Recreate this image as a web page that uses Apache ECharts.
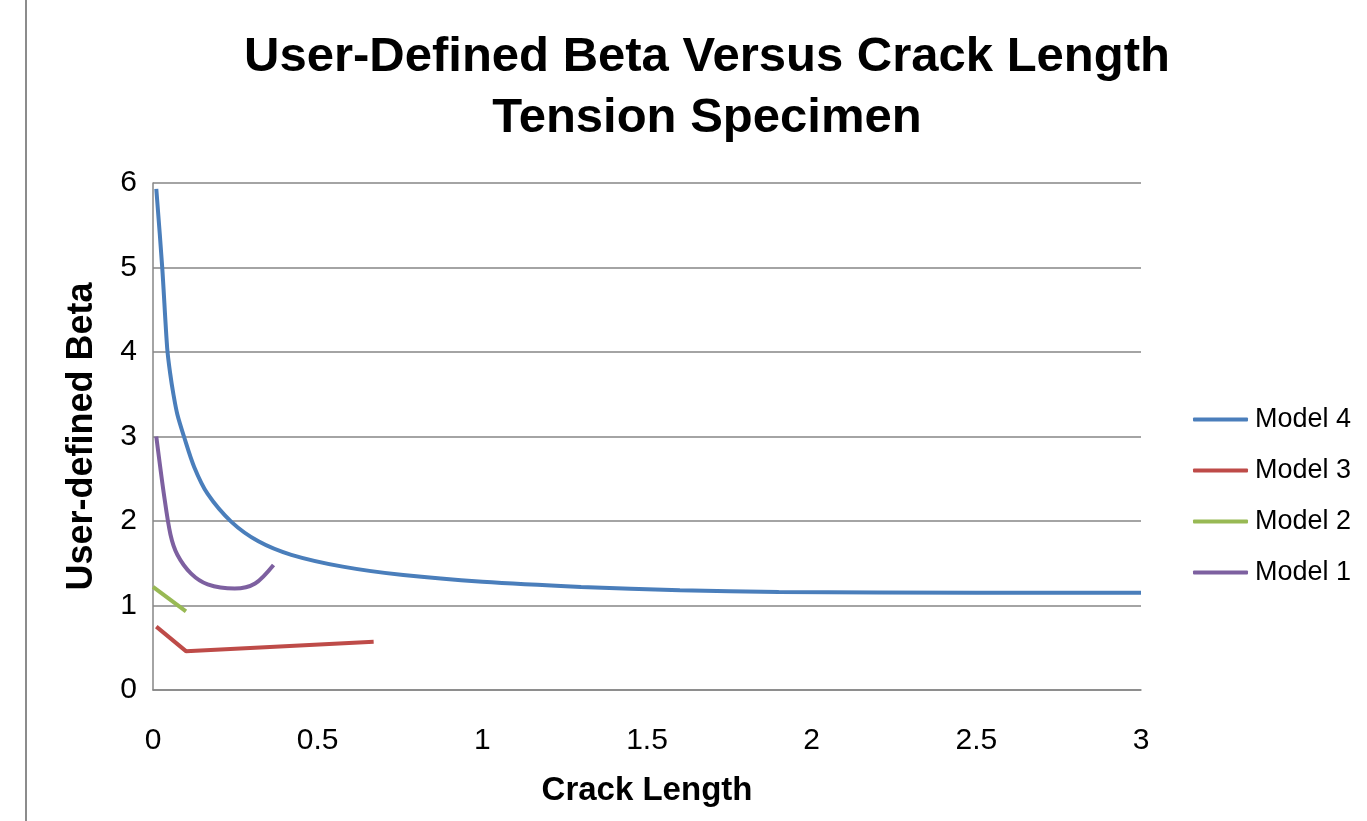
<!DOCTYPE html>
<html>
<head>
<meta charset="utf-8">
<script src="https://cdn.jsdelivr.net/npm/echarts@6/dist/echarts.min.js"></script>
<style>
  html, body { margin: 0; padding: 0; background: #fff; }
  #chart { width: 1367px; height: 821px; }
</style>
</head>
<body>
<div id="chart"></div>
<script>
// values: [crack length, beta]
const model4 = [[0.01, 5.93], [0.028, 5.0], [0.043, 4.05], [0.052, 3.75], [0.062, 3.5], [0.074, 3.26],
  [0.094, 3.0], [0.125, 2.64], [0.166, 2.32], [0.238, 1.99], [0.32, 1.76], [0.42, 1.6], [0.576, 1.46],
  [0.76, 1.36], [1.0, 1.28], [1.3, 1.22], [1.6, 1.18], [1.9, 1.16], [2.5, 1.15], [3.0, 1.15]];
const model3 = [[0.01, 0.75], [0.1, 0.46], [0.67, 0.57]];
const model2 = [[0.0, 1.22], [0.1, 0.93]];
const model1 = [[0.01, 3.0], [0.033, 2.32], [0.053, 1.84], [0.074, 1.6], [0.115, 1.38], [0.166, 1.25],
  [0.248, 1.2], [0.31, 1.26], [0.366, 1.48]];

const seriesNames = ['Model 4', 'Model 3', 'Model 2', 'Model 1'];
const seriesColors = ['#4A7EBB', '#BE4B48', '#98B954', '#7D60A0'];
const seriesData = [model4, model3, model2, model1];
const smoothFlags = [true, false, false, true];

const chart = echarts.init(document.getElementById('chart'));
const font = '"Liberation Sans", Arial, sans-serif';

chart.setOption({
  animation: false,
  backgroundColor: '#fff',
  textStyle: { fontFamily: font },
  title: {
    text: 'User-Defined Beta Versus Crack Length\nTension Specimen',
    left: 702,
    textAlign: 'center',
    top: 22,
    textStyle: { fontSize: 49, fontWeight: 'bold', color: '#000', lineHeight: 61, fontFamily: font }
  },
  legend: {
    orient: 'vertical',
    left: 1188,
    top: 401,
    itemWidth: 55,
    itemHeight: 4,
    itemGap: 24,
    icon: 'roundRect',
    data: seriesNames,
    textStyle: { fontSize: 27, color: '#000', fontFamily: font, padding: [0, 0, 0, 2] }
  },
  grid: { left: 153, right: 226, top: 183, bottom: 131 },
  xAxis: {
    type: 'value',
    min: 0, max: 3, interval: 0.5,
    name: 'Crack Length',
    nameLocation: 'middle',
    nameGap: 84,
    nameTextStyle: { fontSize: 33, fontWeight: 'bold', color: '#000' },
    axisLine: { show: true, lineStyle: { color: '#868686', width: 1.5 } },
    axisTick: { show: false },
    splitLine: { show: false },
    axisLabel: { fontSize: 30, color: '#000', margin: 36 }
  },
  yAxis: {
    type: 'value',
    min: 0, max: 6, interval: 1,
    name: 'User-defined Beta',
    nameLocation: 'middle',
    nameGap: 53,
    nameTextStyle: { fontSize: 36, fontWeight: 'bold', color: '#000' },
    axisLine: { show: true, lineStyle: { color: '#868686', width: 1.5 } },
    axisTick: { show: false },
    splitLine: { show: true, lineStyle: { color: '#868686', width: 1.5 } },
    axisLabel: { fontSize: 30, color: '#000', margin: 16 }
  },
  graphic: [{
    type: 'line',
    shape: { x1: 26, y1: 0, x2: 26, y2: 821 },
    style: { stroke: '#8c8c8c', lineWidth: 2 }
  }],
  series: seriesNames.map((name, i) => ({
    name: name,
    type: 'line',
    data: seriesData[i],
    smooth: smoothFlags[i] ? 0.3 : false,
    showSymbol: false,
    symbol: 'none',
    lineStyle: { color: seriesColors[i], width: 4 },
    itemStyle: { color: seriesColors[i] }
  }))
});
</script>
</body>
</html>
